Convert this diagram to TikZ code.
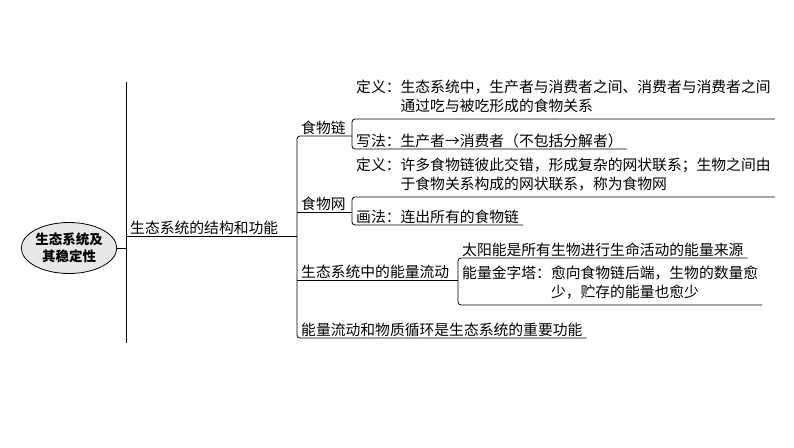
\documentclass[tikz,border=0pt]{standalone}
\usepackage{fontspec}
\setmainfont{Noto Sans CJK SC}
\usetikzlibrary{shapes.geometric}
\tikzset{
  leaf/.style={anchor=south west,inner xsep=4pt,inner ysep=1.5pt,
    font=\fontsize{14.8}{19}\selectfont},
  link/.style={line width=0.8pt,rounded corners=3pt},
  topic/.style={ellipse,draw,line width=0.8pt,fill=gray!18,
    minimum width=88pt,minimum height=51pt,inner sep=0pt,align=center,
    font=\fontsize{13.5}{17.5}\selectfont\bfseries}
}
\begin{document}
\begin{tikzpicture}[x=1pt,y=-1pt]
\useasboundingbox (0,0) rectangle (794,447);
% root and main bar
\node[topic] (root) at (69,248) {生态系统及\\其稳定性};
\coordinate (bartop) at (126,82);
\coordinate (barbot) at (126,343);
\draw[link] (bartop) -- (barbot);
\draw[link] (root.east) -- (root.east -| bartop);
% second level
\node[leaf] (struct) at (126,236) {生态系统的结构和功能};
\node[leaf] (chain) at (297,136) {食物链};
\node[leaf] (web) at (297,212) {食物网};
\node[leaf] (flow) at (297,280) {生态系统中的能量流动};
\node[leaf] (role) at (297,338) {能量流动和物质循环是生态系统的重要功能};
% third level
\node[leaf] (chaindef) at (352,119) {定义：\begin{tabular}[t]{@{}l@{}}生态系统中，生产者与消费者之间、消费者与消费者之间\\通过吃与被吃形成的食物关系\end{tabular}};
\node[leaf,text depth=1pt] (chainway) at (352,149) {写法：生产者→消费者（不包括分解者）};
\node[leaf] (webdef) at (352,197) {定义：\begin{tabular}[t]{@{}l@{}}许多食物链彼此交错，形成复杂的网状联系；生物之间由\\于食物关系构成的网状联系，称为食物网\end{tabular}};
\node[leaf,text depth=1pt] (webway) at (352,225) {画法：连出所有的食物链};
\node[leaf] (sun) at (458,258) {太阳能是所有生物进行生命活动的能量来源};
\node[leaf] (pyramid) at (458,305) {能量金字塔：\begin{tabular}[t]{@{}l@{}}愈向食物链后端，生物的数量愈\\少，贮存的能量也愈少\end{tabular}};
% connectors
\draw[link] (struct.south west) -- (struct.south west -| chain.south west);
\draw[link] (chaindef.south west |- chain.south) -- (chain.south west) |- (role.south east);
\draw[link] (web.south west) -- (webdef.south west |- web.south);
\draw[link] (flow.south west) -- (sun.south west |- flow.south);
\draw[link] (chaindef.south east) -- (chaindef.south west) |- (chainway.south east);
\draw[link] (webdef.south east) -- (webdef.south west) |- (webway.south east);
\draw[link] (sun.south east) -- (sun.south west) |- (pyramid.south east);
\end{tikzpicture}
\end{document}
